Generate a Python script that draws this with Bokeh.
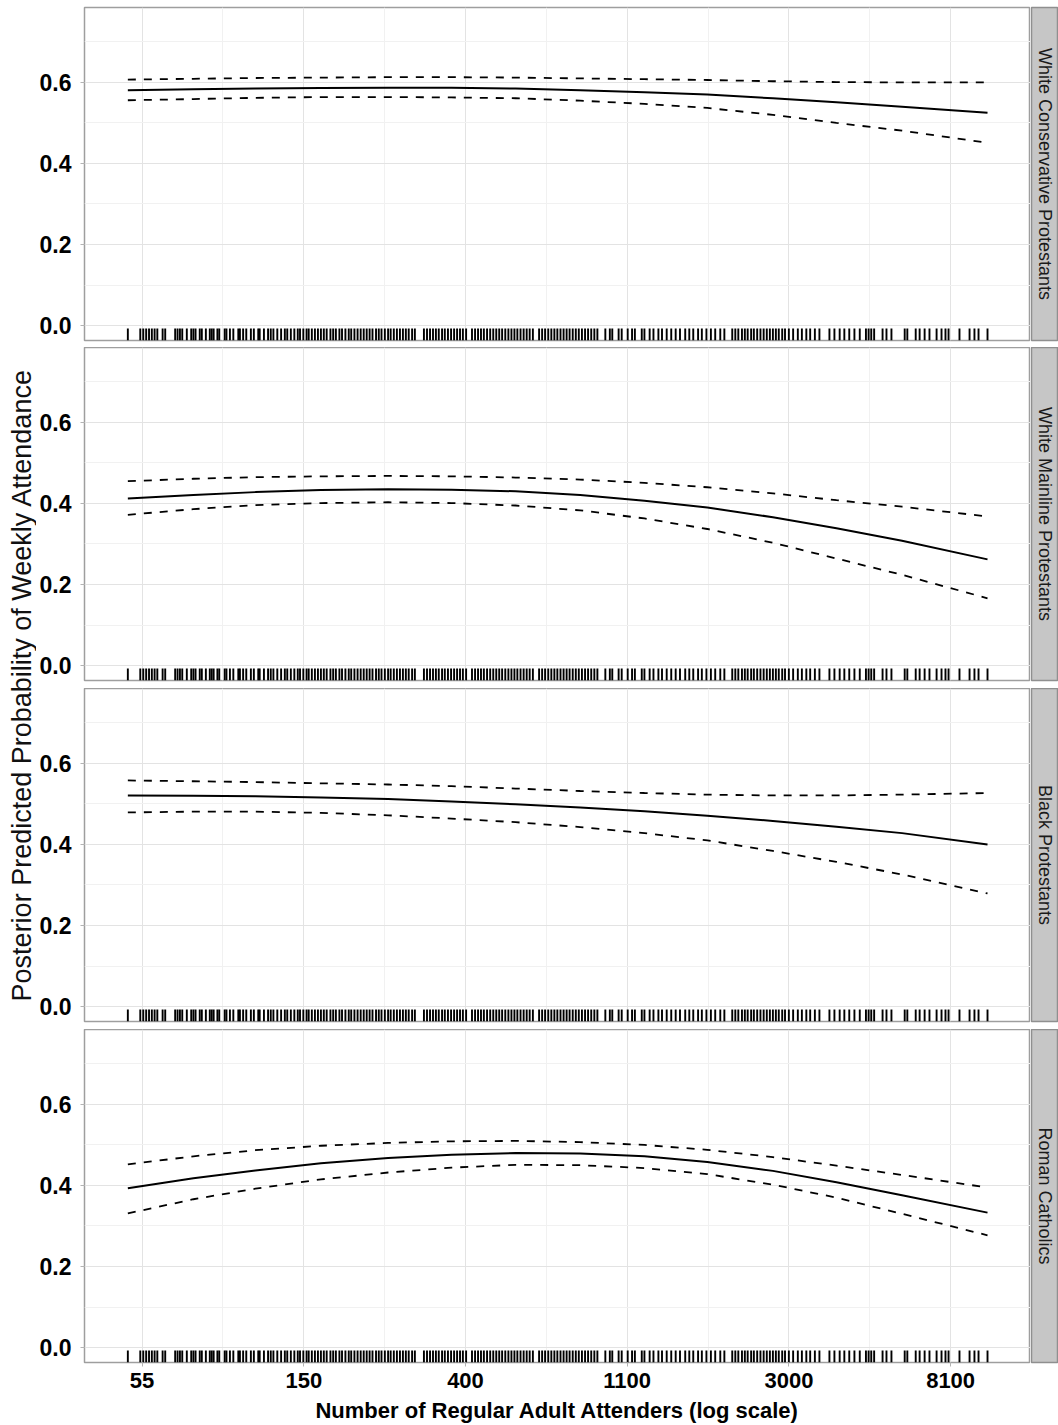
import numpy as np
from bokeh.plotting import figure
from bokeh.layouts import column, row
from bokeh.models import Range1d, FixedTicker, CustomJSTickFormatter, Label, ColumnDataSource
from bokeh.embed import file_html
from bokeh.resources import INLINE

# ---------------- data ----------------
panel_names = ["White Conservative Protestants", "White Mainline Protestants",
               "Black Protestants", "Roman Catholics"]

attenders = [50, 75, 110, 165, 250, 370, 550, 820, 1220, 1800, 2700, 4000, 6000, 10180]

mean_wcp  = [0.581, 0.583, 0.585, 0.586, 0.587, 0.587, 0.585, 0.581, 0.576, 0.570, 0.561, 0.551, 0.540, 0.525]
upper_wcp = [0.607, 0.609, 0.611, 0.612, 0.613, 0.613, 0.612, 0.610, 0.608, 0.606, 0.603, 0.601, 0.600, 0.600]
lower_wcp = [0.556, 0.559, 0.562, 0.564, 0.564, 0.563, 0.561, 0.555, 0.547, 0.537, 0.520, 0.500, 0.481, 0.451]

mean_wmp  = [0.412, 0.421, 0.428, 0.433, 0.435, 0.434, 0.430, 0.421, 0.407, 0.390, 0.366, 0.339, 0.308, 0.262]
upper_wmp = [0.455, 0.461, 0.465, 0.467, 0.468, 0.467, 0.464, 0.459, 0.451, 0.440, 0.425, 0.408, 0.392, 0.368]
lower_wmp = [0.372, 0.386, 0.396, 0.401, 0.403, 0.401, 0.395, 0.383, 0.363, 0.337, 0.303, 0.264, 0.224, 0.166]

mean_bp  = [0.521, 0.520, 0.519, 0.516, 0.512, 0.506, 0.499, 0.491, 0.482, 0.471, 0.458, 0.444, 0.428, 0.400]
upper_bp = [0.558, 0.556, 0.554, 0.551, 0.548, 0.544, 0.538, 0.532, 0.527, 0.523, 0.521, 0.521, 0.523, 0.527]
lower_bp = [0.479, 0.481, 0.481, 0.478, 0.472, 0.464, 0.455, 0.443, 0.428, 0.410, 0.384, 0.357, 0.326, 0.279]

mean_rc  = [0.393, 0.418, 0.437, 0.455, 0.468, 0.476, 0.480, 0.479, 0.472, 0.458, 0.436, 0.408, 0.376, 0.333]
upper_rc = [0.452, 0.472, 0.487, 0.498, 0.505, 0.509, 0.510, 0.507, 0.500, 0.488, 0.470, 0.449, 0.426, 0.395]
lower_rc = [0.331, 0.366, 0.392, 0.415, 0.432, 0.444, 0.451, 0.450, 0.443, 0.428, 0.402, 0.370, 0.330, 0.277]

rug_attenders = [
    50, 54, 55, 56, 57, 58, 59, 60, 62, 63,
    67, 68, 69, 70, 72, 74, 75, 76, 78, 79, 81, 83, 84, 85, 87, 88,
    91, 92, 94, 96, 99, 100, 102, 104, 107, 109, 112, 113, 116, 119, 121, 123,
    126, 129, 132, 134, 137, 140, 143, 145, 148, 151,
    153, 156, 159, 162, 165, 168, 171, 175, 178, 181, 185, 188, 192, 196, 199, 203,
    207, 211, 215, 219, 223, 227, 232, 236, 240, 245, 250, 254, 259, 264, 269, 274,
    279, 284, 290, 295,
    312, 318, 324, 330, 336, 342, 349, 355, 362, 369, 376, 383, 390, 397, 405,
    420, 428, 436, 444, 452, 461, 470, 479,
    488, 497, 506, 516, 526, 536, 546, 556, 567, 578, 589, 600, 612,
    636, 648, 660, 673, 686, 699, 712, 726, 740, 754, 768, 783, 798, 813, 829, 845,
    861, 878, 895, 912,
    958, 985, 1000, 1040, 1060, 1100, 1130, 1150, 1200, 1220, 1260, 1290, 1330, 1360,
    1400, 1440, 1480, 1520,
    1570, 1610, 1650, 1700, 1740, 1790, 1840, 1890, 1950, 2000,
    2100, 2140, 2180, 2230, 2270, 2310, 2360, 2400, 2450, 2500, 2550, 2600, 2650, 2700,
    2750, 2800, 2860, 2910,
    2980, 3060, 3150, 3230, 3320, 3400, 3500, 3600,
    3830, 3950, 4080, 4200, 4330, 4470, 4620,
    4800, 4880, 4960, 5050, 5320, 5450, 5620, 6100, 6200,
    6530, 6690, 6900, 7110, 7430, 7660, 7850, 8000, 8560, 9110, 9390, 9630, 10180]

x_break_logs = [4, 5, 6, 7, 8, 9]          # natural-log breaks
x_minor_logs = [4.5, 5.5, 6.5, 7.5, 8.5]
x_tick_labels = ["55", "150", "400", "1100", "3000", "8100"]
y_ticks = [0.0, 0.2, 0.4, 0.6]
y_minor = [0.1, 0.3, 0.5, 0.7]
y_tick_labels = ["0.0", "0.2", "0.4", "0.6"]

series = [(mean_wcp, upper_wcp, lower_wcp), (mean_wmp, upper_wmp, lower_wmp),
          (mean_bp, upper_bp, lower_bp), (mean_rc, upper_rc, lower_rc)]

# ---------------- layout constants ----------------
FONT = "Liberation Sans"
FRAME_W = 946
FRAME_H = 333
LEFT = 48
TOP = 7
GAPS = [7, 8, 8]
BOTTOM = 60
STRIP_W = 27
YLAB_W = 36

x_ticks = list(np.exp(x_break_logs))
x_minor = list(np.exp(x_minor_logs))
x_range = Range1d(np.exp(3.644), np.exp(9.494))
y_range = Range1d(-0.037, 0.785)
rug_len = 0.036 * (y_range.end - y_range.start)

fmt_code = """
for (let i = 0; i < tvals.length; i++) {
  if (Math.abs(tick - tvals[i]) <= 1e-6 * Math.max(1, Math.abs(tvals[i]))) return labs[i];
}
return "";
"""

rug_src = ColumnDataSource(dict(x=rug_attenders,
                                y0=[y_range.start] * len(rug_attenders),
                                y1=[y_range.start + rug_len] * len(rug_attenders)))

rows = []
for i, (name, (m, up, lo)) in enumerate(zip(panel_names, series)):
    last = (i == len(panel_names) - 1)
    bb = BOTTOM if last else GAPS[i]
    bt = TOP if i == 0 else 0
    p = figure(frame_width=FRAME_W, frame_height=FRAME_H, x_axis_type="log",
               x_range=x_range, y_range=y_range, output_backend="svg",
               toolbar_location=None, min_border_left=LEFT, min_border_right=0,
               min_border_top=bt, min_border_bottom=bb)
    p.background_fill_color = "white"
    p.border_fill_color = "white"
    p.outline_line_color = "#9E9E9E"
    p.outline_line_width = 1.5

    xt = FixedTicker(ticks=x_ticks, minor_ticks=x_minor)
    yt = FixedTicker(ticks=y_ticks, minor_ticks=y_minor)
    p.xaxis.ticker = xt
    p.yaxis.ticker = yt
    p.xgrid.ticker = xt
    p.ygrid.ticker = yt
    for g in (p.xgrid, p.ygrid):
        g.grid_line_color = "#E3E3E3"
        g.grid_line_width = 1
        g.minor_grid_line_color = "#F1F1F1"
        g.minor_grid_line_width = 1

    p.yaxis.formatter = CustomJSTickFormatter(args=dict(tvals=y_ticks, labs=y_tick_labels),
                                              code=fmt_code)
    p.yaxis.axis_line_color = None
    p.yaxis.major_tick_line_color = "#B3B3B3"
    p.yaxis.major_tick_out = 4
    p.yaxis.major_tick_in = 0
    p.yaxis.minor_tick_line_color = None
    p.yaxis.major_label_standoff = 9
    p.yaxis.major_label_text_font = FONT
    p.yaxis.major_label_text_font_style = "bold"
    p.yaxis.major_label_text_font_size = "23px"
    p.yaxis.major_label_text_color = "black"

    if last:
        p.xaxis.formatter = CustomJSTickFormatter(args=dict(tvals=x_ticks, labs=x_tick_labels),
                                                  code=fmt_code)
        p.xaxis.axis_line_color = None
        p.xaxis.major_tick_line_color = "#B3B3B3"
        p.xaxis.major_tick_out = 4
        p.xaxis.major_tick_in = 0
        p.xaxis.minor_tick_line_color = None
        p.xaxis.major_label_standoff = 6
        p.xaxis.major_label_text_font = FONT
        p.xaxis.major_label_text_font_style = "bold"
        p.xaxis.major_label_text_font_size = "22px"
        p.xaxis.major_label_text_color = "black"
        p.xaxis.axis_label = "Number of Regular Adult Attenders (log scale)"
        p.xaxis.axis_label_text_font = FONT
        p.xaxis.axis_label_text_font_style = "bold"
        p.xaxis.axis_label_text_font_size = "22px"
        p.xaxis.axis_label_text_color = "black"
        p.xaxis.axis_label_standoff = 7
    else:
        p.xaxis.visible = False

    p.segment(x0="x", y0="y0", x1="x", y1="y1", source=rug_src,
              line_color="black", line_width=1.9)
    p.line(attenders, m, line_color="black", line_width=2)
    p.line(attenders, up, line_color="black", line_width=1.8, line_dash="8 8")
    p.line(attenders, lo, line_color="black", line_width=1.8, line_dash="8 8")

    s = figure(frame_width=STRIP_W, frame_height=FRAME_H, x_range=Range1d(0, 1),
               y_range=Range1d(0, 1), output_backend="svg", toolbar_location=None,
               x_axis_location=None, y_axis_location=None,
               min_border_left=1, min_border_right=0, min_border_top=bt, min_border_bottom=bb)
    s.grid.visible = False
    s.background_fill_color = "#C6C6C6"
    s.border_fill_color = "white"
    s.outline_line_color = "#8F8F8F"
    s.outline_line_width = 1.5
    s.add_layout(Label(x=0.5, y=0.5, text=name, angle=-np.pi / 2,
                       text_align="center", text_baseline="middle",
                       text_font=FONT, text_font_size="18px", text_color="#1A1A1A"))
    rows.append(row(p, s))

total_h = TOP + 4 * FRAME_H + sum(GAPS) + BOTTOM
yl = figure(frame_width=YLAB_W, frame_height=total_h, x_range=Range1d(0, YLAB_W),
            y_range=Range1d(0, total_h), output_backend="svg", toolbar_location=None,
            x_axis_location=None, y_axis_location=None,
            min_border_left=0, min_border_right=0, min_border_top=0, min_border_bottom=0)
yl.grid.visible = False
yl.outline_line_color = None
panels_mid = TOP + (4 * FRAME_H + sum(GAPS)) / 2.0
yl.add_layout(Label(x=21, y=total_h - panels_mid,
                    text="Posterior Predicted Probability of Weekly Attendance",
                    angle=np.pi / 2, text_align="center", text_baseline="middle",
                    text_font=FONT, text_font_size="27px", text_color="#111111"))

layout = row(yl, column(*rows))
open("out.html", "w").write(file_html(layout, INLINE))
